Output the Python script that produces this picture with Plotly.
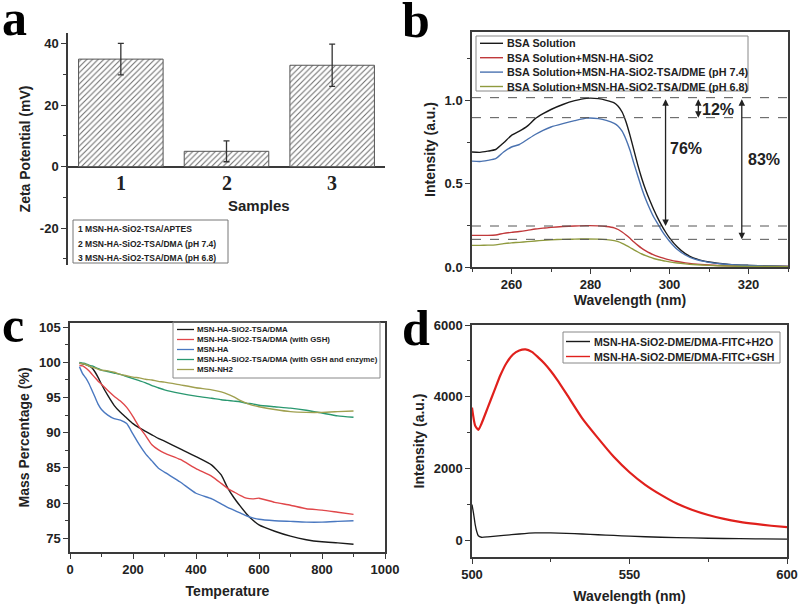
import plotly.graph_objects as go

SANS = "Liberation Sans, Arial, sans-serif"
SERIF = "Liberation Serif, Times New Roman, serif"
INK = "#222222"
AX = "#3a3a3a"
W, H = 800, 605

# ---------------- Panel a: zeta potential ----------------
sample_ids = [1, 2, 3]
zeta_mean = [35.0, 5.0, 33.0]
zeta_err = [5.1, 3.4, 6.9]
sample_names = ["1 MSN-HA-SiO2-TSA/APTES",
                "2 MSN-HA-SiO2-TSA/DMA (pH 7.4)",
                "3 MSN-HA-SiO2-TSA/DMA (pH 6.8)"]
zeta_ticks = [-20, 0, 20, 40]

# ---------------- Panel b: UV-vis ----------------
wl_b = [250, 252, 254, 256, 258, 260, 262, 264, 266, 268, 270, 273, 276, 279, 282,
        284, 286, 287, 288, 289, 290, 291, 292, 293, 294, 295, 296, 297, 298, 299,
        300, 302, 304, 306, 310, 315, 320, 325, 330]
bsa = [0.690, 0.688, 0.695, 0.705, 0.745, 0.790, 0.815, 0.845, 0.890, 0.920, 0.945,
       0.975, 0.998, 1.012, 1.010, 1.000, 0.985, 0.965, 0.930, 0.870, 0.790, 0.700,
       0.610, 0.530, 0.460, 0.400, 0.345, 0.295, 0.250, 0.210, 0.175, 0.120, 0.080,
       0.055, 0.030, 0.016, 0.010, 0.006, 0.004]
bsa_sio2 = [0.190, 0.190, 0.190, 0.192, 0.202, 0.208, 0.213, 0.220, 0.228, 0.233, 0.238,
            0.243, 0.246, 0.248, 0.247, 0.243, 0.235, 0.225, 0.210, 0.192, 0.172, 0.150,
            0.130, 0.112, 0.097, 0.084, 0.073, 0.064, 0.056, 0.049, 0.043, 0.033, 0.025,
            0.019, 0.012, 0.007, 0.005, 0.004, 0.003]
bsa_ph74 = [0.635, 0.633, 0.640, 0.650, 0.690, 0.720, 0.735, 0.765, 0.795, 0.820, 0.840,
            0.860, 0.878, 0.893, 0.890, 0.880, 0.862, 0.845, 0.815, 0.765, 0.700, 0.620,
            0.545, 0.470, 0.405, 0.350, 0.300, 0.260, 0.220, 0.185, 0.155, 0.105, 0.072,
            0.050, 0.028, 0.015, 0.009, 0.006, 0.004]
bsa_ph68 = [0.130, 0.130, 0.131, 0.133, 0.140, 0.145, 0.148, 0.152, 0.156, 0.160, 0.163,
            0.166, 0.167, 0.168, 0.167, 0.164, 0.158, 0.152, 0.142, 0.130, 0.117, 0.103,
            0.090, 0.078, 0.068, 0.059, 0.051, 0.045, 0.040, 0.035, 0.031, 0.024, 0.019,
            0.015, 0.010, 0.006, 0.004, 0.003, 0.002]
b_names = ["BSA Solution", "BSA Solution+MSN-HA-SiO2",
           "BSA Solution+MSN-HA-SiO2-TSA/DME (pH 7.4)",
           "BSA Solution+MSN-HA-SiO2-TSA/DME (pH 6.8)"]
ref_levels = [1.016, 0.896, 0.246, 0.166]
arrow_x = [299.0, 307.3, 318.3]
arrow_top = [1.016, 1.016, 1.016]
arrow_bottom = [0.246, 0.896, 0.166]
pct_labels = ["76%", "12%", "83%"]
pct_x = [304.3, 312.3, 324.0]
pct_y = [0.71, 0.946, 0.644]

# ---------------- Panel c: TGA ----------------
temp = [30, 40, 50, 60, 70, 80, 90, 100, 120, 140, 160, 180, 200, 220, 240, 260, 280,
        300, 350, 400, 450, 480, 500, 520, 540, 560, 580, 600, 650, 700, 750, 800, 850, 900]
tga_dma = [99.9, 99.8, 99.7, 99.5, 99.2, 98.6, 97.8, 96.9, 95.3, 93.9, 92.9, 92.1, 91.3,
           90.7, 90.2, 89.7, 89.2, 88.8, 87.7, 86.6, 85.4, 84.0, 82.2, 80.8, 79.6, 78.5,
           77.6, 76.9, 76.0, 75.3, 74.8, 74.5, 74.35, 74.15]
tga_gsh = [99.6, 99.5, 99.2, 98.8, 98.3, 97.8, 97.3, 96.9, 96.0, 95.2, 94.5, 93.6, 92.3,
           90.8, 89.6, 88.3, 87.6, 87.1, 86.2, 84.9, 83.8, 82.8, 82.1, 81.6, 81.1, 80.7,
           80.6, 80.7, 80.1, 79.7, 79.2, 79.0, 78.7, 78.4]
tga_ha = [99.4, 98.4, 97.8, 97.0, 96.0, 95.0, 94.0, 93.3, 92.5, 92.0, 91.8, 91.3, 89.8,
          88.3, 87.0, 86.0, 85.0, 84.4, 83.0, 81.4, 80.6, 79.9, 79.4, 79.0, 78.6, 78.2,
          77.9, 77.7, 77.5, 77.4, 77.3, 77.3, 77.4, 77.5]
tga_enzyme = [100.0, 99.9, 99.8, 99.6, 99.5, 99.3, 99.1, 98.9, 98.7, 98.5, 98.3, 98.0,
              97.7, 97.4, 97.1, 96.7, 96.4, 96.1, 95.6, 95.2, 94.9, 94.7, 94.6, 94.5,
              94.4, 94.2, 94.1, 93.9, 93.7, 93.5, 93.2, 92.8, 92.4, 92.2]
tga_nh2 = [99.9, 99.8, 99.7, 99.5, 99.3, 99.2, 99.0, 98.9, 98.8, 98.6, 98.3, 98.1, 97.9,
           97.8, 97.6, 97.5, 97.3, 97.2, 96.8, 96.4, 96.1, 95.8, 95.5, 95.1, 94.6, 94.2,
           93.9, 93.7, 93.3, 93.0, 92.9, 92.9, 93.0, 93.1]
c_names = ["MSN-HA-SiO2-TSA/DMA", "MSN-HA-SiO2-TSA/DMA (with GSH)", "MSN-HA",
           "MSN-HA-SiO2-TSA/DMA (with GSH and enzyme)", "MSN-NH2"]

# ---------------- Panel d: fluorescence ----------------
wl_d_red = [500, 501, 502, 503, 505, 507, 509, 511, 513, 515, 517, 519, 521, 523, 525,
            527, 530, 535, 540, 545, 550, 555, 560, 565, 570, 575, 580, 585, 590, 595, 600]
fl_gsh = [3700, 3200, 3080, 3250, 3700, 4150, 4600, 4950, 5180, 5290, 5320, 5250, 5100,
          4930, 4720, 4480, 4080, 3400, 2850, 2330, 1900, 1550, 1270, 1030, 850, 710,
          600, 520, 460, 410, 370]
wl_d_black = [500, 500.5, 501, 501.5, 502, 503, 505, 510, 515, 520, 525, 530, 535, 540,
              545, 550, 560, 570, 580, 590, 600]
fl_h2o = [1000, 750, 450, 250, 130, 90, 100, 140, 180, 210, 210, 200, 180, 160, 140,
          120, 90, 70, 55, 45, 35]
d_names = ["MSN-HA-SiO2-DME/DMA-FITC+H2O", "MSN-HA-SiO2-DME/DMA-FITC+GSH"]

b_colors = ["#1a1a1a", "#c0393b", "#4a72b0", "#8f9a3e"]
c_colors = ["#1a1a1a", "#e0474a", "#4a78c0", "#2a9870", "#a0a050"]
d_colors = ["#1a1a1a", "#e0201c"]

fig = go.Figure()

# Panel a
fig.add_trace(go.Bar(
    x=sample_ids, y=zeta_mean, width=0.8, xaxis="x", yaxis="y", showlegend=False,
    marker=dict(color="white", line=dict(color="#555555", width=1),
                pattern=dict(shape="/", fgcolor="#6a6a6a", bgcolor="white", size=4, solidity=0.25)),
    error_y=dict(type="data", array=zeta_err, color="#333333", thickness=1.3, width=3),
))

# Panel b
for ys, nm, col in zip([bsa, bsa_sio2, bsa_ph74, bsa_ph68], b_names, b_colors):
    fig.add_trace(go.Scatter(x=wl_b, y=ys, name=nm, mode="lines", xaxis="x2", yaxis="y2",
                             showlegend=False,
                             line=dict(color=col, width=1.4, shape="spline", smoothing=0.6)))

# Panel c
for ys, nm, col in zip([tga_dma, tga_gsh, tga_ha, tga_enzyme, tga_nh2], c_names, c_colors):
    fig.add_trace(go.Scatter(x=temp, y=ys, name=nm, mode="lines", xaxis="x3", yaxis="y3",
                             showlegend=False,
                             line=dict(color=col, width=1.4, shape="spline", smoothing=0.5)))

# Panel d
fig.add_trace(go.Scatter(x=wl_d_black, y=fl_h2o, name=d_names[0], mode="lines",
                         xaxis="x4", yaxis="y4", showlegend=False,
                         line=dict(color=d_colors[0], width=1.3, shape="spline", smoothing=0.4)))
fig.add_trace(go.Scatter(x=wl_d_red, y=fl_gsh, name=d_names[1], mode="lines",
                         xaxis="x4", yaxis="y4", showlegend=False,
                         line=dict(color=d_colors[1], width=2.2, shape="spline", smoothing=0.6)))

tickfont = dict(family=SANS, size=13, color=INK, weight="bold")
titlefont = dict(family=SANS, size=14, color=INK, weight="bold")


def ax(**kw):
    base = dict(showgrid=False, zeroline=False, showline=True, linecolor=AX, linewidth=1.5,
                ticks="outside", ticklen=5, tickwidth=1.3, tickcolor=AX, tickfont=tickfont,
                automargin=False)
    base.update(kw)
    return base


def px(x):
    return x / W


def py(y):
    return 1 - y / H


shapes = []
annotations = []

# dashed reference levels in b
for lv in ref_levels:
    shapes.append(dict(type="line", xref="x2 domain", yref="y2", x0=0, x1=1, y0=lv, y1=lv,
                       line=dict(color="#555555", width=1, dash="dash")))
# arrows in b
for xa, yt, yb in zip(arrow_x, arrow_top, arrow_bottom):
    annotations.append(dict(x=xa, y=yb, ax=xa, ay=yt, xref="x2", yref="y2", axref="x2", ayref="y2",
                            text="", showarrow=True, arrowhead=2, startarrowhead=2,
                            arrowside="end+start", arrowsize=1, arrowwidth=1.3, arrowcolor="#222"))
for t, xp, yp in zip(pct_labels, pct_x, pct_y):
    annotations.append(dict(x=xp, y=yp, xref="x2", yref="y2", text=t, showarrow=False,
                            font=dict(family=SANS, size=16, color=INK, weight="bold")))

# category labels for panel a (drawn under the zero line)
for sid in sample_ids:
    annotations.append(dict(x=sid, y=0, xref="x", yref="y", text=str(sid), showarrow=False,
                            yanchor="top", yshift=-3,
                            font=dict(family=SERIF, size=20, color=INK, weight="bold")))
annotations.append(dict(x=px(226), y=py(205), xref="paper", yref="paper", text="Samples",
                        showarrow=False, font=dict(family=SANS, size=15, color=INK, weight="bold")))
# sample description box in a
shapes.append(dict(type="rect", xref="paper", yref="paper", x0=px(73), x1=px(228),
                   y0=py(263), y1=py(220), line=dict(color="#777777", width=1),
                   fillcolor="white", layer="below"))
for i, nm in enumerate(sample_names):
    annotations.append(dict(x=px(76), y=py(229.3 + 14.5 * i), xref="paper", yref="paper",
                            text=nm, showarrow=False, xanchor="left", yanchor="middle",
                            font=dict(family=SANS, size=8.5, color=INK, weight="bold")))


def manual_legend(names, colors, box, row0, dy, line_x, text_x, fsize, lw):
    shapes.append(dict(type="rect", xref="paper", yref="paper", x0=px(box[0]), x1=px(box[1]),
                       y0=py(box[3]), y1=py(box[2]), line=dict(color="#888888", width=1),
                       fillcolor="rgba(255,255,255,0)"))
    for i, (nm, col) in enumerate(zip(names, colors)):
        yy = row0 + dy * i
        shapes.append(dict(type="line", xref="paper", yref="paper", x0=px(line_x[0]), x1=px(line_x[1]),
                           y0=py(yy), y1=py(yy), line=dict(color=col, width=lw)))
        annotations.append(dict(x=px(text_x), y=py(yy), xref="paper", yref="paper", text=nm,
                                showarrow=False, xanchor="left", yanchor="middle",
                                font=dict(family=SANS, size=fsize, color=INK, weight="bold")))


manual_legend(b_names, b_colors, (476, 748, 36, 91), 43.3, 14.4, (480, 503), 505, 10.8, 1.4)
manual_legend(c_names, c_colors, (173, 380, 322, 378), 329.5, 10.0, (177, 194), 194.5, 7.9, 1.3)
manual_legend(d_names, d_colors, (563, 780, 332, 363), 341.5, 15.0, (566, 590), 592, 10.6, 1.4)

# panel letters (glyph centre positions in pixels)
for letter, lx, ly in [("a", 0, 18), ("b", 400, 20.5), ("c", 0, 324.5), ("d", 400, 327.5)]:
    annotations.append(dict(x=px(lx), y=py(ly), xref="paper", yref="paper", text=letter,
                            showarrow=False, xanchor="left", yanchor="middle",
                            font=dict(family=SERIF, size=50, color="#000", weight="bold")))

minor = lambda d: dict(dtick=d, ticks="outside", ticklen=3, tickcolor=AX)

fig.update_layout(
    template="none",
    width=W, height=H, margin=dict(l=0, r=0, t=0, b=0, autoexpand=False),
    paper_bgcolor="white", plot_bgcolor="white", showlegend=False,
    font=dict(family=SANS, color=INK),
    xaxis=dict(domain=[px(68), px(385)], range=[0.5, 3.5], showticklabels=False, automargin=False,
               showline=False, ticks="", showgrid=False, zeroline=False, anchor="y"),
    yaxis=ax(domain=[py(265), py(33)], range=[-32, 43.5], tickvals=zeta_ticks,
             ticktext=[str(v) for v in zeta_ticks], minor=minor(10),
             zeroline=True, zerolinecolor=AX, zerolinewidth=1.5, anchor="x",
             title=dict(text="Zeta Potential (mV)", font=titlefont, standoff=6)),
    xaxis2=ax(domain=[px(472), px(788)], range=[250, 330], tickvals=[260, 280, 300, 320],
              minor=minor(10), mirror=True,
              anchor="y2", title=dict(text="Wavelength (nm)", font=titlefont, standoff=2)),
    yaxis2=ax(domain=[py(267), py(32)], range=[0, 1.41], tickvals=[0, 0.5, 1.0],
              ticktext=["0.0", "0.5", "1.0"], minor=minor(0.25), mirror=True,
              anchor="x2", title=dict(text="Intensity (a.u.)", font=titlefont, standoff=6)),
    xaxis3=ax(domain=[px(70), px(385)], range=[0, 1000], dtick=200,
              minor=minor(100), mirror=True,
              anchor="y3", title=dict(text="Temperature", font=titlefont, standoff=10)),
    yaxis3=ax(domain=[py(552), py(323)], range=[73.05, 105.6], dtick=5,
              minor=minor(2.5), mirror=True,
              anchor="x3", title=dict(text="Mass Percentage (%)", font=titlefont, standoff=6)),
    xaxis4=ax(domain=[px(472), px(787)], range=[500, 600], tickvals=[500, 550, 600],
              minor=minor(25), mirror=True,
              anchor="y4", title=dict(text="Wavelength (nm)", font=titlefont, standoff=10)),
    yaxis4=ax(domain=[py(557), py(325)], range=[-460, 6000], tickvals=[0, 2000, 4000, 6000],
              minor=minor(1000), mirror=True,
              anchor="x4", title=dict(text="Intensity (a.u.)", font=titlefont, standoff=6)),
    shapes=shapes,
    annotations=annotations,
)

fig.write_html(
    "out.html",
    config={"displayModeBar": False},
    post_script="document.documentElement.style.margin='0';document.body.style.margin='0';"
                "document.body.style.padding='0';document.body.style.overflow='hidden';",
)
